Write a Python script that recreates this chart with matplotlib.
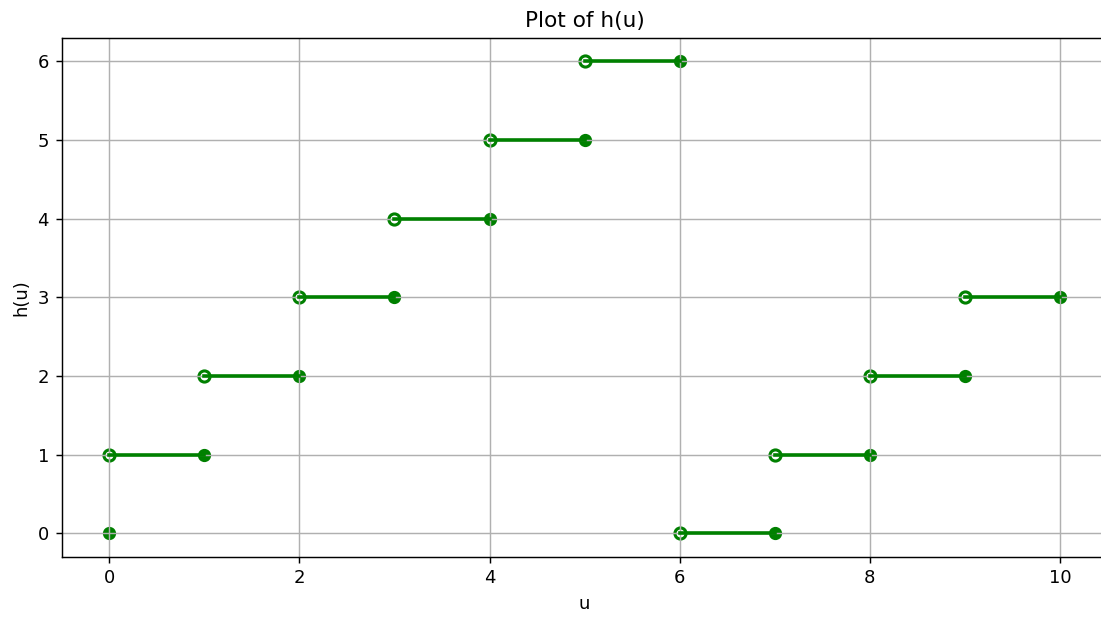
import numpy as np
import matplotlib.pyplot as plt

# h(u) on each interval (k-1, k], k = 1..10, plus the point at u = 0
starts = [0, 1, 2, 3, 4, 5, 6, 7, 8, 9]
ends = [1, 2, 3, 4, 5, 6, 7, 8, 9, 10]
values = [1, 2, 3, 4, 5, 6, 0, 1, 2, 3]
h0 = 0

fig = plt.figure(figsize=(1101 / 130, 620 / 130), dpi=130)
ax = fig.add_subplot(111)
fig.subplots_adjust(left=0.056, right=1.006, top=0.939, bottom=0.102)

ax.scatter([0], [h0], color='green', s=40, zorder=1)
for a, b, v in zip(starts, ends, values):
    ax.plot([a, b], [v, v], color='green', linewidth=2)
    # open end on the left, closed end on the right
    ax.scatter([a], [v], facecolors='white', edgecolors='green', s=38, linewidths=1.7, zorder=1)
    ax.scatter([b], [v], color='green', s=40, zorder=1)

ax.set_title('Plot of h(u)')
ax.set_xlabel('u')
ax.set_ylabel('h(u)')
ax.grid(True)

plt.savefig('out.png')
